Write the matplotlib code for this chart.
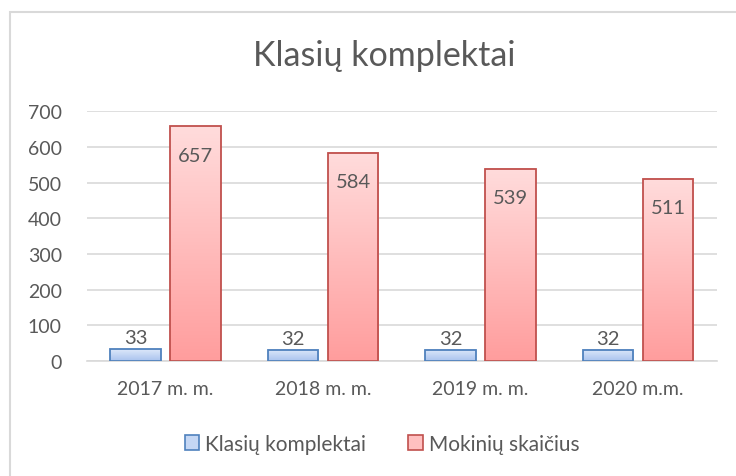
import numpy as np
import matplotlib
matplotlib.use('Agg')
import matplotlib.pyplot as plt
from matplotlib.colors import LinearSegmentedColormap
from matplotlib.patches import Rectangle

plt.rcParams['font.family'] = ['Lato', 'DejaVu Sans']

categories = ['2017 m. m.', '2018 m. m.', '2019 m. m.', '2020 m.m.']
klases = [33, 32, 32, 32]
mokiniai = [657, 584, 539, 511]
series_names = ['Klasių komplektai', 'Mokinių skaičius']

text_col = '#595959'
grid_col = '#d9d9d9'

fig = plt.figure(figsize=(7.36, 4.77), dpi=100)
ax = fig.add_axes([0.118, 0.241, 0.856, 0.524])

# chart border (cut off at right and bottom, like the screenshot)
fig.patches.append(Rectangle((10 / 736, -0.1), 1.2, 1 - 13 / 477 + 0.1,
                             transform=fig.transFigure, fill=False,
                             edgecolor=grid_col, linewidth=1.5))

blue_cm = LinearSegmentedColormap.from_list('b', ['#a9c3ee', '#dde8fa'])
red_cm = LinearSegmentedColormap.from_list('r', ['#ff9d9d', '#ffdcdc'])

x = np.arange(len(categories))
w = 0.32
off = 0.19

def grad_bars(xs, vals, cmap, edge):
    grad = np.linspace(0, 1, 256).reshape(-1, 1)
    for xi, v in zip(xs, vals):
        ax.imshow(grad, cmap=cmap, origin='lower', aspect='auto',
                  extent=[xi - w / 2, xi + w / 2, 0, v], zorder=2)
    return ax.bar(xs, vals, width=w, facecolor='none', edgecolor=edge,
                  linewidth=1.3, zorder=3)

b1 = grad_bars(x - off, klases, blue_cm, '#4f81bd')
b2 = grad_bars(x + off, mokiniai, red_cm, '#c0504d')

for xi, v in zip(x - off, klases):
    ax.text(xi, v + 8, str(v), ha='center', va='bottom', fontsize=14.5, color=text_col, zorder=4)
for xi, v in zip(x + off, mokiniai):
    ax.text(xi, v - 82, str(v), ha='center', va='center', fontsize=14.5, color=text_col, zorder=4)

ax.set_xlim(-0.5, len(categories) - 0.5)
ax.set_ylim(0, 700)
ax.set_yticks(range(0, 701, 100))
ax.set_xticks(x)
ax.set_xticklabels(categories)
ax.tick_params(axis='both', length=0, labelsize=14, labelcolor=text_col)
ax.tick_params(axis='y', pad=18)
ax.tick_params(axis='x', pad=14)
ax.grid(axis='y', color=grid_col, linewidth=1.2, zorder=0)
ax.set_axisbelow(True)
for s in ['top', 'right', 'left']:
    ax.spines[s].set_visible(False)
ax.spines['bottom'].set_color(grid_col)
ax.spines['bottom'].set_linewidth(1.2)

fig.text(0.522, 0.882, 'Klasių komplektai', ha='center', va='center',
         fontsize=24.5, color=text_col)

h1 = Rectangle((0, 0), 1, 1, facecolor='#c5d7f4', edgecolor='#4f81bd', linewidth=1.2)
h2 = Rectangle((0, 0), 1, 1, facecolor='#ffc0c0', edgecolor='#c0504d', linewidth=1.2)
leg = fig.legend([h1, h2], series_names, loc='center', bbox_to_anchor=(0.519, 0.067),
                 ncol=2, frameon=False, fontsize=15, handlelength=0.7, handleheight=0.7,
                 handletextpad=0.3, columnspacing=2.0)
for t in leg.get_texts():
    t.set_color(text_col)

fig.savefig('out.png', dpi=100)
